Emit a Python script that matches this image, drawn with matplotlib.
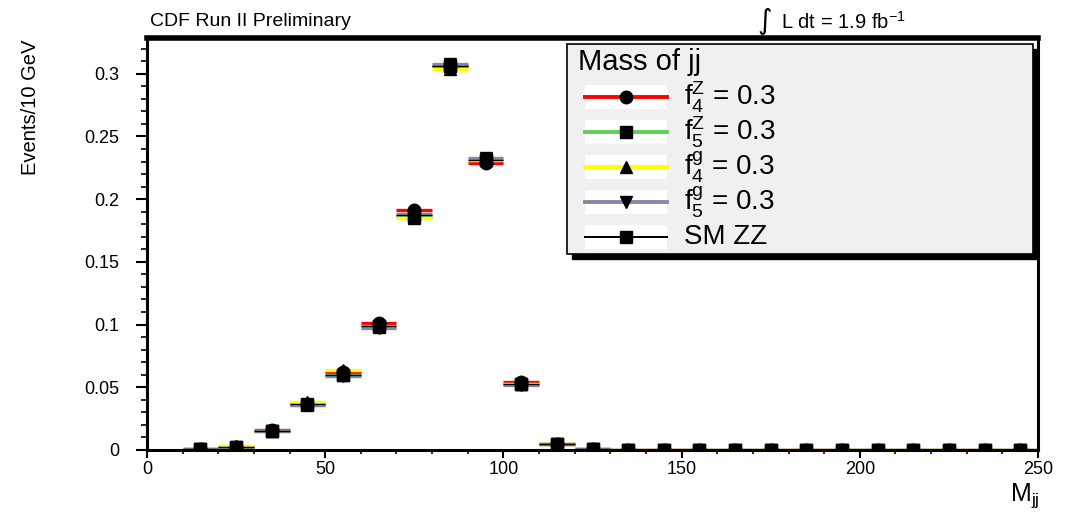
"""
Dijet mass distribution for SM ZZ and anomalous couplings (CDF style).
"""

import matplotlib.pyplot as plt
from matplotlib.lines import Line2D
from matplotlib.patches import Rectangle

plt.rcParams['font.family'] = ['Liberation Sans', 'DejaVu Sans']
plt.rcParams['mathtext.fontset'] = 'custom'
plt.rcParams['mathtext.rm'] = 'Liberation Sans'
plt.rcParams['mathtext.it'] = 'Liberation Sans'
plt.rcParams['mathtext.default'] = 'regular'

# bin edges in GeV (10 GeV bins from 10 to 250)
bin_lo = [10, 20, 30, 40, 50, 60, 70, 80, 90, 100, 110, 120,
          130, 140, 150, 160, 170, 180, 190, 200, 210, 220, 230, 240]
bin_hi = [b + 10 for b in bin_lo]
centers = [b + 5 for b in bin_lo]

sm_zz = [0.0004, 0.0020, 0.0150, 0.0370, 0.0600, 0.0990, 0.1870, 0.3060,
         0.2310, 0.0530, 0.0050, 0.0005, 0.0003, 0.0003, 0.0003, 0.0003,
         0.0003, 0.0003, 0.0003, 0.0003, 0.0003, 0.0003, 0.0003, 0.0003]
f4z = [0.0004, 0.0020, 0.0160, 0.0370, 0.0620, 0.1010, 0.1910, 0.3060,
       0.2290, 0.0540, 0.0050, 0.0006, 0.0003, 0.0003, 0.0003, 0.0003,
       0.0003, 0.0003, 0.0003, 0.0003, 0.0003, 0.0003, 0.0003, 0.0003]
f5z = [0.0004, 0.0020, 0.0150, 0.0360, 0.0600, 0.0990, 0.1860, 0.3060,
       0.2310, 0.0530, 0.0050, 0.0005, 0.0003, 0.0003, 0.0003, 0.0003,
       0.0003, 0.0003, 0.0003, 0.0003, 0.0003, 0.0003, 0.0003, 0.0003]
f4g = [0.0004, 0.0030, 0.0150, 0.0380, 0.0640, 0.0980, 0.1850, 0.3040,
       0.2310, 0.0530, 0.0050, 0.0005, 0.0003, 0.0003, 0.0003, 0.0003,
       0.0003, 0.0003, 0.0003, 0.0003, 0.0003, 0.0003, 0.0003, 0.0003]
f5g = [0.0004, 0.0015, 0.0150, 0.0360, 0.0590, 0.0970, 0.1880, 0.3080,
       0.2330, 0.0520, 0.0050, 0.0005, 0.0003, 0.0003, 0.0003, 0.0003,
       0.0003, 0.0003, 0.0003, 0.0003, 0.0003, 0.0003, 0.0003, 0.0003]

labels = [r"f$_4^Z$ = 0.3", r"f$_5^Z$ = 0.3", r"f$_4^g$ = 0.3", r"f$_5^g$ = 0.3", "SM ZZ"]
series = [f4z, f5z, f4g, f5g, sm_zz]
colors = ["#ff0000", "#5fcf55", "#ffff00", "#8888a6", "#000000"]
markers = ["o", "s", "^", "v", "s"]
widths = [2.4, 2.4, 2.4, 2.4, 1.0]

W, H = 1066, 519
fig = plt.figure(figsize=(W / 100, H / 100), dpi=100)
ax = fig.add_axes([147 / W, 1 - 450 / H, (1038 - 147) / W, (450 - 38) / H])

def px(x, y):
    # pixel position -> figure fraction
    return x / W, 1 - y / H

# Plot histograms: horizontal bin lines in colour, black markers
for vals, col, lw in zip(series, colors, widths):
    ax.hlines(vals, bin_lo, bin_hi, colors=col, linewidth=lw, zorder=2)
for vals, mk in zip(series, markers):
    ax.plot(centers, vals, linestyle="none", marker=mk, markersize=9,
            color="black", zorder=3)

ax.set_xlim(0, 250)
ax.set_ylim(0, 0.3285)
ax.set_xticks([0, 50, 100, 150, 200, 250])
ax.set_xticks(range(0, 251, 10), minor=True)
ax.set_yticks([0, 0.05, 0.1, 0.15, 0.2, 0.25, 0.3])
ax.set_yticklabels(["0", "0.05", "0.1", "0.15", "0.2", "0.25", "0.3"])
ax.set_yticks([i * 0.01 for i in range(33)], minor=True)
ax.tick_params(which="major", length=8, width=1.5, labelsize=13, direction="out")
ax.tick_params(which="minor", length=4, width=1.2, direction="out")
ax.tick_params(axis="x", which="major", length=6, pad=2)
ax.tick_params(axis="x", which="minor", length=3)
ax.tick_params(axis="y", which="major", pad=12)
for side in ["left", "bottom", "right"]:
    ax.spines[side].set_linewidth(2.2)
ax.spines["top"].set_linewidth(4)

fig.text(*px(30, 40), "Events/10 GeV", rotation=90, ha="center", va="top", fontsize=14.5)
fig.text(*px(1010, 496), r"M$_{jj}$", ha="left", va="center", fontsize=18)
fig.text(*px(150, 22), "CDF Run II Preliminary", ha="left", va="center", fontsize=14)
fig.text(*px(757, 21), "\u222b", ha="left", va="center", fontsize=20,
         family="DejaVu Sans")
fig.text(*px(781, 22), r"L dt = 1.9 fb$^{-1}$", ha="left", va="center", fontsize=14.5)

# Legend box with black shadow
lx0, ly0, lx1, ly1 = 567, 44, 1033, 254
fig.patches.append(Rectangle(px(lx0 + 5, ly1 + 5), (lx1 - lx0) / W, (ly1 - ly0) / H,
                             transform=fig.transFigure, facecolor="black",
                             edgecolor="black", zorder=5))
fig.patches.append(Rectangle(px(lx0, ly1), (lx1 - lx0) / W, (ly1 - ly0) / H,
                             transform=fig.transFigure, facecolor="#f0f0f0",
                             edgecolor="black", linewidth=1.2, zorder=6))
fig.text(*px(578, 62), "Mass of jj", ha="left", va="center", fontsize=21, zorder=7)
row_y = [97, 132, 167, 202, 237]
for yy, lab, col, mk, lw in zip(row_y, labels, colors, markers, widths):
    fig.patches.append(Rectangle(px(585, yy + 12), 82 / W, 24 / H,
                                 transform=fig.transFigure, facecolor="white",
                                 edgecolor="none", zorder=7))
    fig.lines.append(Line2D([585 / W, 667 / W], [1 - yy / H] * 2,
                            transform=fig.transFigure, color=col,
                            linewidth=lw + 0.4, zorder=8))
    fig.lines.append(Line2D([626 / W], [1 - yy / H], transform=fig.transFigure,
                            marker=mk, markersize=9, color="black", zorder=9))
    fig.text(*px(684, yy), lab, ha="left", va="center", fontsize=20, zorder=9)

fig.savefig("out.png", dpi=100)
